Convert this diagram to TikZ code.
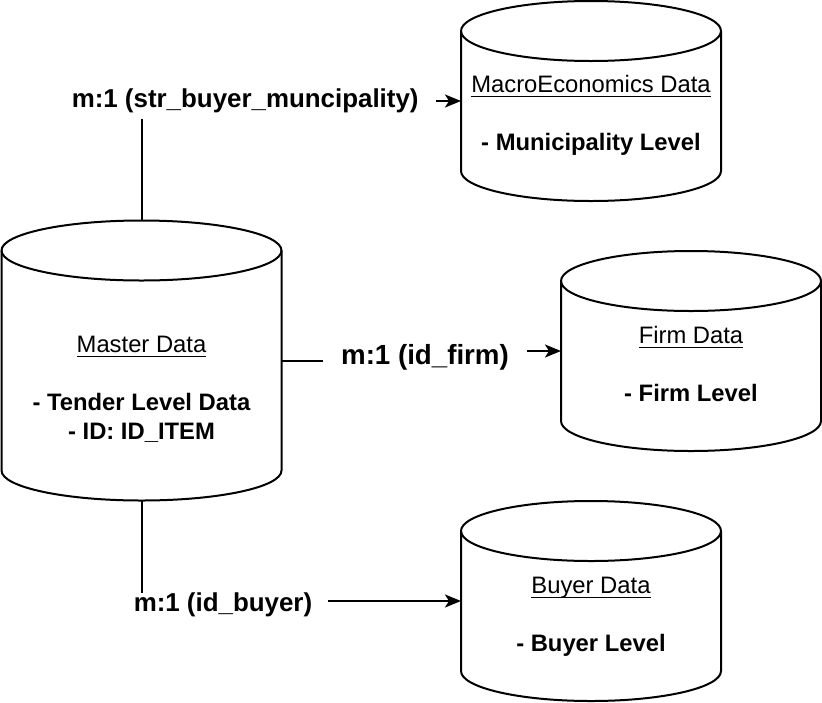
\documentclass[tikz,border=0pt]{standalone}
\usepackage{fontspec}
\setmainfont{Liberation Sans}
\usetikzlibrary{arrows.meta}
\newcommand\myul[1]{\setbox0\hbox{#1}\rlap{\rule[-4.5pt]{\wd0}{1.5pt}}\box0}
\newcommand\dbcyl[2]{%
  \draw[cylline] ([yshift=-30pt]#1.north west) -- ([yshift=30pt]#1.south west)
    arc[start angle=180,end angle=360,x radius=#2,y radius=30pt]
    -- ([yshift=-30pt]#1.north east)
    arc[start angle=0,end angle=180,x radius=#2,y radius=30pt] -- cycle;
  \draw[cylline] ([yshift=-30pt]#1.north west)
    arc[start angle=180,end angle=360,x radius=#2,y radius=30pt];
}
\begin{document}
\begin{tikzpicture}[x=1pt,y=1pt,
  cylbox/.style={inner sep=0pt, outer sep=0pt},
  cylline/.style={line width=2pt, line join=round},
  cyltext/.style={align=center, inner sep=0pt, font=\fontsize{23.8}{28.7}\selectfont},
  lbl/.style={font=\fontsize{25.9}{31}\selectfont\bfseries, inner ysep=0pt, inner xsep=17pt},
  conn/.style={line width=2pt},
  arr/.style={conn, -{Stealth[length=16pt,width=13pt,inset=4pt]}}]
\useasboundingbox (0,0) rectangle (822,-702);
% cylinders
\node[cylbox, minimum width=280pt, minimum height=280pt] (master) at (141.5,-360.5) {};
\node[cylbox, minimum width=260pt, minimum height=200pt] (macro) at (591,-101) {};
\node[cylbox, minimum width=260pt, minimum height=200pt] (firm) at (691,-351) {};
\node[cylbox, minimum width=260pt, minimum height=200pt] (buyer) at (591,-601) {};
\dbcyl{master}{140pt}
\dbcyl{macro}{130pt}
\dbcyl{firm}{130pt}
\dbcyl{buyer}{130pt}
% texts
\node[cyltext] (mastertxt) at (141.5,-390.3) {\myul{Master Data}\strut\\ \mbox{}\\ \textbf{- Tender Level Data}\\ \textbf{- ID: ID\_ITEM}\strut};
\node[cyltext] (macrotxt) at (591,-115.8) {\myul{MacroEconomics Data}\strut\\ \mbox{}\\ \textbf{- Municipality Level}\strut};
\node[cyltext] (firmtxt) at (691,-366.8) {\myul{Firm Data}\strut\\ \mbox{}\\ \textbf{- Firm Level}\strut};
\node[cyltext] (buyertxt) at (591,-616.8) {\myul{Buyer Data}\strut\\ \mbox{}\\ \textbf{- Buyer Level}\strut};
% labels
\node[lbl, inner ysep=6pt] (lblmacro) at (245.2,-101) {m:1 (str\_buyer\_muncipality)};
\node[lbl, font=\fontsize{27.7}{33}\selectfont\bfseries, inner xsep=18pt] (lblfirm) at (425,-357) {m:1 (id\_firm)};
\node[lbl, inner xsep=16pt] (lblbuyer) at (223,-605) {m:1 (id\_buyer)};
% connectors
\draw[conn] (master.north) -- (lblmacro.south -| master.north);
\draw[arr] (lblmacro.east) -- (macro.west);
\draw[conn] (master.east) -- (master.east -| lblfirm.west);
\draw[arr] (firm.west -| lblfirm.east) -- (firm.west);
\draw[conn] (master.south) -- (lblbuyer.north -| master.south);
\draw[arr] (buyer.west -| lblbuyer.east) -- (buyer.west);
\end{tikzpicture}
\end{document}
